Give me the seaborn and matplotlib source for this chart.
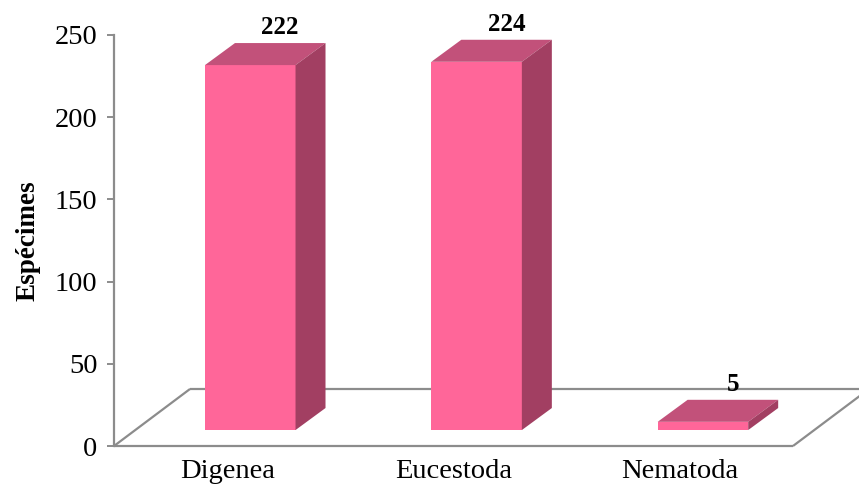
import matplotlib.pyplot as plt
from matplotlib.patches import Polygon
import seaborn as sns

# Chart data
CATEGORIES = ["Digenea", "Eucestoda", "Nematoda"]
COUNTS = [222, 224, 5]
Y_TICKS = [0, 50, 100, 150, 200, 250]

# Colours of the pseudo 3D bars
FRONT = "#FF6699"
TOP = "#C2517A"
SIDE = "#A23F62"
LINE_GRAY = "#8C8C8C"

# Pseudo 3D offsets (data units)
FLOOR_DX, FLOOR_DY = 0.336, 34.7    # depth of the floor
BAR_DX, BAR_DY = 0.102, 9.7         # bar front sits part-way into the floor
DEPTH_DX, DEPTH_DY = 0.1325, 13.4   # depth of a bar

sns.set_theme(style="white")
plt.rcParams["font.family"] = ["Liberation Serif", "DejaVu Serif"]
plt.rcParams["text.color"] = "black"
plt.rcParams["axes.labelcolor"] = "black"

fig = plt.figure(figsize=(8.59, 4.95), dpi=100)
ax = fig.add_axes([114 / 859, 49 / 495, 679 / 859, 411 / 495])

sns.barplot(x=CATEGORIES, y=COUNTS, color=FRONT, width=0.4, saturation=1,
            ax=ax, zorder=4)
ax.set_xlim(-0.5, 2.5)
ax.set_ylim(0, 250)

# Floor outline
x0, x1 = -0.5, 2.5
floor = [
    ([x0, x1], [0, 0]),
    ([x0 + FLOOR_DX, x1 + FLOOR_DX], [FLOOR_DY, FLOOR_DY]),
    ([x0, x0 + FLOOR_DX], [0, FLOOR_DY]),
    ([x1, x1 + FLOOR_DX], [0, FLOOR_DY]),
]
for xs, ys in floor:
    ax.plot(xs, ys, color=LINE_GRAY, lw=1.6, clip_on=False, zorder=1,
            solid_capstyle="butt")

# Turn the flat bars into boxes
for patch, val in zip(ax.patches, COUNTS):
    bx = patch.get_x() + BAR_DX
    bw = patch.get_width()
    by = BAR_DY
    h = patch.get_height()
    patch.set_x(bx)
    patch.set_y(by)
    patch.set_edgecolor("none")
    patch.set_clip_on(False)
    top = Polygon([(bx, by + h), (bx + bw, by + h),
                   (bx + bw + DEPTH_DX, by + h + DEPTH_DY),
                   (bx + DEPTH_DX, by + h + DEPTH_DY)],
                  closed=True, facecolor=TOP, edgecolor="none",
                  clip_on=False, zorder=4)
    side = Polygon([(bx + bw, by), (bx + bw + DEPTH_DX, by + DEPTH_DY),
                    (bx + bw + DEPTH_DX, by + h + DEPTH_DY), (bx + bw, by + h)],
                   closed=True, facecolor=SIDE, edgecolor="none",
                   clip_on=False, zorder=4)
    ax.add_patch(top)
    ax.add_patch(side)
    ax.text(bx + bw / 2 + DEPTH_DX, by + h + DEPTH_DY + 2.5, f"{val}",
            ha="center", va="bottom", fontsize=18, fontweight="bold",
            color="black", zorder=5)

# Axes styling
for s in ["top", "right", "bottom"]:
    ax.spines[s].set_visible(False)
ax.spines["left"].set_color(LINE_GRAY)
ax.spines["left"].set_linewidth(1.6)
ax.set_yticks(Y_TICKS)
ax.tick_params(axis="y", direction="out", length=5, width=1.4,
               color=LINE_GRAY, labelsize=20.5, pad=7, left=True,
               labelcolor="black")
ax.tick_params(axis="x", length=0, labelsize=20.5, pad=9, labelcolor="black")
ax.set_ylabel("Espécimes", fontsize=19.5, fontweight="bold")
ax.yaxis.set_label_coords(-0.108, 0.5)
ax.set_xlabel("")
ax.set_facecolor("none")

fig.savefig("out.png", dpi=100)
